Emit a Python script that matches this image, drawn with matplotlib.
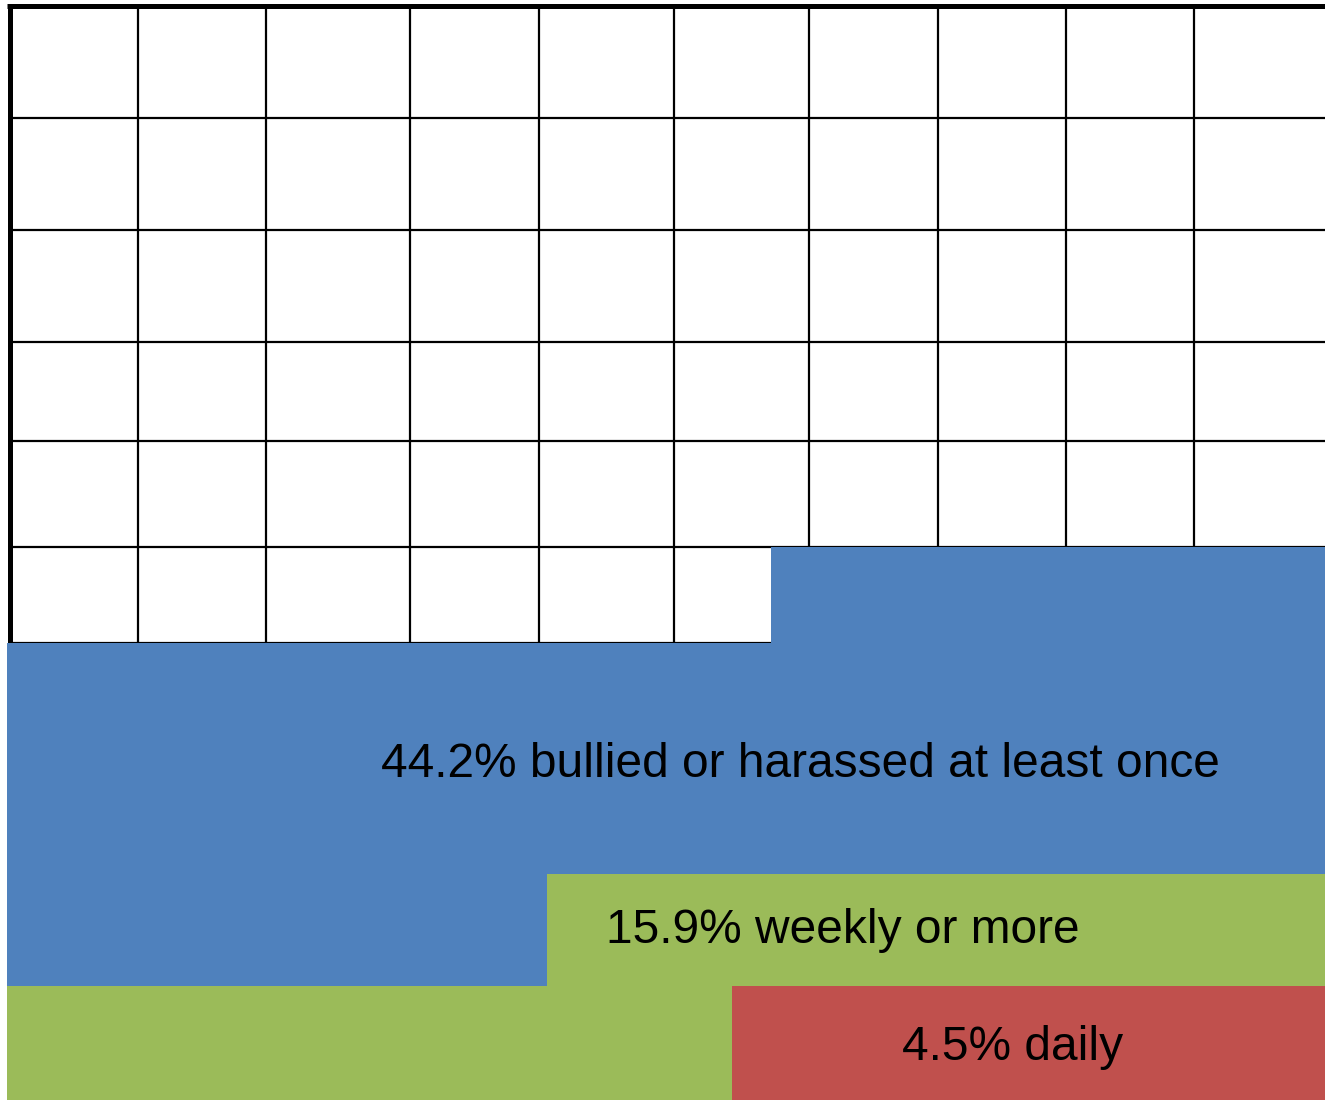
import matplotlib
matplotlib.use("Agg")
import matplotlib.pyplot as plt

# percentages (cumulative: daily is inside weekly, weekly inside "at least once")
labels = ["4.5% daily", "15.9% weekly or more", "44.2% bullied or harassed at least once"]
cum_values = [4.5, 15.9, 44.2]
colors = ["#C0504D", "#9BBB59", "#4F81BD"]

n_cols = 10
n_rows = 10

# layout of the (slightly uneven) table behind the fills, in axis units
row_edges = [0, 1.042, 2.065, 3.12, 4.175, 5.052, 6.02, 6.93, 7.95, 8.97, 10]
col_lines = [0.994, 1.965, 3.058, 4.037, 5.061, 6.085, 7.064, 8.035, 9.006]
label_x = [7.63, 6.34, 6.02]
label_y = [0.365, 1.434, 2.951]
border_x = 0.019

fig = plt.figure(figsize=(13.25, 11), dpi=100)
ax = fig.add_axes([7 / 1325, 0, 1 - 7 / 1325, 1 - 5.5 / 1100])
ax.set_xlim(0, n_cols)
ax.set_ylim(0, n_rows)
ax.axis("off")

# grid
ax.vlines(col_lines, 0, n_rows, color="black", lw=1.6, zorder=1)
ax.hlines(row_edges[1:-1], border_x, n_cols, color="black", lw=1.6, zorder=1)
ax.plot([border_x, border_x], [0, 10], color="black", lw=3.6, zorder=1, clip_on=False,
        solid_capstyle="butt")
ax.plot([0, 10], [10, 10], color="black", lw=3.6, zorder=1, clip_on=False,
        solid_capstyle="butt")

# fill cells bottom-up, each row from right to left
start = 0.0
for val, col in zip(cum_values, colors):
    p = start
    while p < val - 1e-9:
        r = int(p // n_cols)
        off = p - r * n_cols
        take = min(n_cols - off, val - p)
        right = n_cols - off
        ax.fill_between([right - take, right], row_edges[r], row_edges[r + 1],
                        color=col, lw=0, zorder=2)
        p += take
    start = val

for txt, x, y in zip(labels, label_x, label_y):
    ax.text(x, y, txt, ha="center", va="baseline", fontsize=34.5,
            family="Liberation Sans", color="black", zorder=3)

fig.savefig("out.png", dpi=100)
